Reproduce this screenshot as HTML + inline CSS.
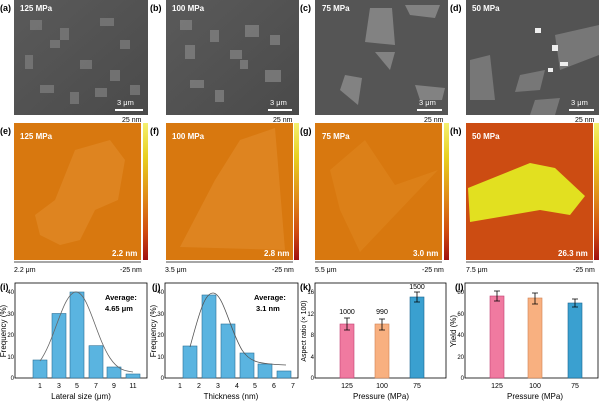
<!DOCTYPE html>
<html><head><meta charset="utf-8"><style>
html,body{margin:0;padding:0;background:#fff;}
svg{display:block;font-family:"Liberation Sans",sans-serif;}
</style></head><body>
<svg width="600" height="401" viewBox="0 0 600 401" xmlns="http://www.w3.org/2000/svg">
<defs>
<linearGradient id="cb" x1="0" y1="0" x2="0" y2="1">
<stop offset="0" stop-color="#f4f070"/><stop offset="0.25" stop-color="#e8d020"/><stop offset="0.55" stop-color="#e08a18"/><stop offset="0.8" stop-color="#d04a10"/><stop offset="1" stop-color="#a01010"/>
</linearGradient>
<linearGradient id="sem" x1="0" y1="0" x2="1" y2="1">
<stop offset="0" stop-color="#5a5a5a"/><stop offset="1" stop-color="#4a4a4a"/>
</linearGradient>
</defs>

<!-- SEM panels -->
<g font-size="9" font-weight="bold" fill="#000">
<text x="0" y="11">(a)</text><text x="150" y="11">(b)</text><text x="300" y="11">(c)</text><text x="450" y="11">(d)</text>
</g>
<g>
<rect x="14" y="0" width="134" height="115" fill="url(#sem)"/>
<g fill="#7a7a7a" opacity="0.8">
<rect x="30" y="20" width="12" height="10"/><rect x="60" y="28" width="9" height="12"/><rect x="100" y="18" width="14" height="8"/><rect x="120" y="40" width="10" height="9"/><rect x="25" y="55" width="8" height="14"/><rect x="80" y="60" width="12" height="9"/><rect x="110" y="70" width="10" height="11"/><rect x="40" y="85" width="14" height="8"/><rect x="70" y="92" width="9" height="12"/><rect x="95" y="88" width="12" height="9"/><rect x="50" y="40" width="10" height="8"/><rect x="130" y="85" width="10" height="10"/>
</g>
<rect x="166" y="0" width="133" height="115" fill="url(#sem)"/>
<g fill="#808080" opacity="0.8">
<rect x="180" y="20" width="12" height="10"/><rect x="210" y="30" width="9" height="12"/><rect x="245" y="25" width="14" height="12"/><rect x="270" y="35" width="10" height="10"/><rect x="185" y="45" width="10" height="14"/><rect x="230" y="50" width="12" height="9"/><rect x="265" y="70" width="16" height="12"/><rect x="190" y="80" width="14" height="8"/><rect x="215" y="90" width="9" height="12"/><rect x="240" y="60" width="8" height="9"/>
</g>
<rect x="315" y="0" width="133" height="115" fill="#555"/>
<g fill="#8a8a8a" opacity="0.85">
<polygon points="370,8 392,8 395,45 365,42"/><polygon points="405,5 440,5 435,18 410,15"/><polygon points="375,52 395,52 390,70"/><polygon points="345,75 362,78 358,105 340,90"/><polygon points="415,85 445,88 442,100 420,100"/>
</g>
<rect x="466" y="0" width="133" height="115" fill="#535353"/>
<g fill="#7e7e7e" opacity="0.85">
<polygon points="555,35 599,25 599,55 560,70"/><polygon points="470,60 490,55 495,100 470,100"/><polygon points="520,75 545,70 540,90 515,92"/><polygon points="535,100 560,98 555,115 530,115"/>
</g>
<g fill="#eee"><rect x="535" y="28" width="6" height="5"/><rect x="552" y="45" width="6" height="6"/><rect x="560" y="62" width="8" height="4"/><rect x="548" y="68" width="5" height="4"/></g>
</g>
<g fill="#fff" font-size="8" font-weight="bold">
<text x="20" y="11">125 MPa</text><text x="172" y="11">100 MPa</text><text x="322" y="11">75 MPa</text><text x="472" y="11">50 MPa</text>
</g>
<g fill="#fff" font-size="7.5">
<text x="117" y="105">3 μm</text><text x="270" y="105">3 μm</text><text x="419" y="105">3 μm</text><text x="571" y="105">3 μm</text>
</g>
<g stroke="#fff" stroke-width="2">
<line x1="115" y1="110" x2="143" y2="110"/><line x1="268" y1="110" x2="292" y2="110"/><line x1="417" y1="110" x2="442" y2="110"/><line x1="569" y1="110" x2="594" y2="110"/>
</g>

<!-- AFM panels -->
<g font-size="9" font-weight="bold" fill="#000">
<text x="0" y="134">(e)</text><text x="150" y="134">(f)</text><text x="300" y="134">(g)</text><text x="450" y="134">(h)</text>
</g>
<g font-size="7" fill="#000">
<text x="122" y="122">25 nm</text><text x="273" y="122">25 nm</text><text x="424" y="122">25 nm</text><text x="575" y="122">25 nm</text>
<text x="14" y="272">2.2 μm</text><text x="165" y="272">3.5 μm</text><text x="315" y="272">5.5 μm</text><text x="466" y="272">7.5 μm</text>
<text x="120" y="272">-25 nm</text><text x="272" y="272">-25 nm</text><text x="422" y="272">-25 nm</text><text x="573" y="272">-25 nm</text>
</g>
<rect x="14" y="123" width="127" height="137" fill="#d8780f"/>
<path d="M75,150 L110,140 L125,160 L118,200 L95,210 L80,240 L60,245 L40,235 L35,215 L55,200 L65,175 Z" fill="#de8420"/>
<rect x="143" y="123" width="5" height="137" fill="url(#cb)"/>
<rect x="166" y="123" width="127" height="137" fill="#d8780f"/>
<path d="M240,140 L275,128 L285,250 L180,247 L215,180 Z" fill="#de8420"/>
<rect x="294" y="123" width="5" height="137" fill="url(#cb)"/>
<rect x="315" y="123" width="127" height="137" fill="#d8780f"/>
<path d="M330,170 L365,140 L395,185 L438,170 L360,252 L340,210 Z" fill="#dc8018"/>
<rect x="444" y="123" width="5" height="137" fill="url(#cb)"/>
<rect x="466" y="123" width="127" height="137" fill="#cc4c12"/>
<path d="M468,188 L530,163 L555,168 L585,196 L570,215 L540,210 L470,222 Z" fill="#e2e020"/>
<rect x="594" y="123" width="5" height="137" fill="url(#cb)"/>
<g fill="#fff" font-size="8" font-weight="bold">
<text x="20" y="139">125 MPa</text><text x="172" y="139">100 MPa</text><text x="322" y="139">75 MPa</text><text x="472" y="139">50 MPa</text>
<text x="112" y="256">2.2 nm</text><text x="264" y="256">2.8 nm</text><text x="413" y="256">3.0 nm</text><text x="558" y="256">26.3 nm</text>
</g>
<g stroke="#888" stroke-width="1.5">
<line x1="14" y1="262" x2="141" y2="262"/><line x1="166" y1="262" x2="293" y2="262"/><line x1="315" y1="262" x2="442" y2="262"/><line x1="466" y1="262" x2="593" y2="262"/>
</g>

<!-- Charts -->
<g font-size="9" font-weight="bold" fill="#000">
<text x="0" y="290">(i)</text><text x="152" y="290">(j)</text><text x="300" y="290">(k)</text><text x="455" y="290">(l)</text>
</g>
<!-- (i) -->
<g>
<rect x="15" y="283" width="132" height="95" fill="none" stroke="#000" stroke-width="0.8"/>
<g fill="#5ab4e0" stroke="#2a6f96" stroke-width="0.6">
<rect x="33" y="360" width="14" height="18"/><rect x="52" y="313.5" width="14" height="64.5"/><rect x="70" y="292" width="14" height="86"/><rect x="89" y="345.7" width="14" height="32.3"/><rect x="107" y="367" width="14" height="11"/><rect x="126" y="374" width="14" height="4"/>
</g>
<path d="M40,361 C55,340 62,296 75,292 C88,290 95,335 110,358 C118,370 125,371 133,372" fill="none" stroke="#666" stroke-width="0.8"/>
<g font-size="6" text-anchor="end"><text x="14" y="380">0</text><text x="14" y="359">10</text><text x="14" y="337">20</text><text x="14" y="316">30</text><text x="14" y="294">40</text></g>
<g font-size="7" text-anchor="middle"><text x="40" y="388">1</text><text x="59" y="388">3</text><text x="77" y="388">5</text><text x="96" y="388">7</text><text x="114" y="388">9</text><text x="133" y="388">11</text></g>
<text x="81" y="399" font-size="8" text-anchor="middle">Lateral size (μm)</text>
<text transform="translate(6,331) rotate(-90)" font-size="8" text-anchor="middle">Frequency (%)</text>
<text x="105" y="300" font-size="7.5" font-weight="bold">Average:</text><text x="105" y="311" font-size="7.5" font-weight="bold">4.65 μm</text>
</g>
<!-- (j) -->
<g>
<rect x="165" y="283" width="133" height="95" fill="none" stroke="#000" stroke-width="0.8"/>
<g fill="#5ab4e0" stroke="#2a6f96" stroke-width="0.6">
<rect x="183" y="346" width="14" height="32"/><rect x="202" y="295" width="14" height="83"/><rect x="221" y="324" width="14" height="54"/><rect x="240" y="353" width="14" height="25"/><rect x="258" y="364" width="14" height="14"/><rect x="277" y="371" width="14" height="7"/>
</g>
<path d="M190,347 C200,310 205,293 213,293 C223,293 230,330 242,350 C250,362 258,364 286,365" fill="none" stroke="#555" stroke-width="0.8"/>
<g font-size="6" text-anchor="end"><text x="164" y="380">0</text><text x="164" y="359">10</text><text x="164" y="337">20</text><text x="164" y="316">30</text><text x="164" y="294">40</text></g>
<g font-size="7" text-anchor="middle"><text x="180" y="388">1</text><text x="199" y="388">2</text><text x="218" y="388">3</text><text x="237" y="388">4</text><text x="255" y="388">5</text><text x="274" y="388">6</text><text x="293" y="388">7</text></g>
<text x="231" y="399" font-size="8" text-anchor="middle">Thickness (nm)</text>
<text transform="translate(156,331) rotate(-90)" font-size="8" text-anchor="middle">Frequency (%)</text>
<text x="254" y="300" font-size="7.5" font-weight="bold">Average:</text><text x="256" y="311" font-size="7.5" font-weight="bold">3.1 nm</text>
</g>
<!-- (k) -->
<g>
<rect x="315" y="283" width="131" height="95" fill="none" stroke="#000" stroke-width="0.8"/>
<rect x="340" y="324" width="14" height="54" fill="#f07aa0" stroke="#c04070" stroke-width="0.6"/>
<rect x="375" y="324" width="14" height="54" fill="#f8b080" stroke="#d08050" stroke-width="0.6"/>
<rect x="410" y="297" width="14" height="81" fill="#3aa0d0" stroke="#1a6690" stroke-width="0.6"/>
<g stroke="#000" stroke-width="0.8" fill="none">
<path d="M347,318 V330 M344,318 H350 M344,330 H350"/><path d="M382,319 V330 M379,319 H385 M379,330 H385"/><path d="M417,292 V302 M414,292 H420 M414,302 H420"/>
</g>
<g font-size="7" text-anchor="middle"><text x="347" y="314">1000</text><text x="382" y="314">990</text><text x="417" y="289">1500</text></g>
<g font-size="6" text-anchor="end"><text x="314" y="380">0</text><text x="314" y="359">4</text><text x="314" y="337">8</text><text x="314" y="316">12</text><text x="314" y="294">16</text></g>
<g font-size="7" text-anchor="middle"><text x="347" y="388">125</text><text x="382" y="388">100</text><text x="417" y="388">75</text></g>
<text x="381" y="399" font-size="8" text-anchor="middle">Pressure (MPa)</text>
<text transform="translate(306,331) rotate(-90)" font-size="7" text-anchor="middle">Aspect ratio (× 100)</text>
</g>
<!-- (l) -->
<g>
<rect x="465" y="283" width="133" height="95" fill="none" stroke="#000" stroke-width="0.8"/>
<rect x="490" y="296" width="14" height="82" fill="#f07aa0" stroke="#c04070" stroke-width="0.6"/>
<rect x="528" y="298" width="14" height="80" fill="#f8b080" stroke="#d08050" stroke-width="0.6"/>
<rect x="568" y="303" width="14" height="75" fill="#3aa0d0" stroke="#1a6690" stroke-width="0.6"/>
<g stroke="#000" stroke-width="0.8" fill="none">
<path d="M497,291 V301 M494,291 H500 M494,301 H500"/><path d="M535,293 V304 M532,293 H538 M532,304 H538"/><path d="M575,299 V307 M572,299 H578 M572,307 H578"/>
</g>
<g font-size="6" text-anchor="end"><text x="464" y="380">0</text><text x="464" y="359">20</text><text x="464" y="337">40</text><text x="464" y="316">60</text><text x="464" y="294">80</text></g>
<g font-size="7" text-anchor="middle"><text x="497" y="388">125</text><text x="535" y="388">100</text><text x="575" y="388">75</text></g>
<text x="535" y="399" font-size="8" text-anchor="middle">Pressure (MPa)</text>
<text transform="translate(456,331) rotate(-90)" font-size="8" text-anchor="middle">Yield (%)</text>
</g>
</svg>
</body></html>
